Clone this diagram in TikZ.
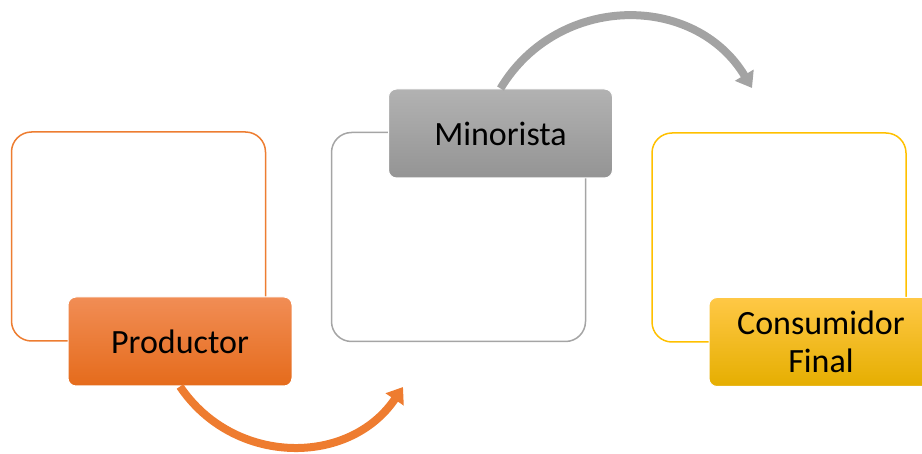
\documentclass[tikz,border=0pt]{standalone}
\usepackage{fontspec}
\setmainfont{Carlito}
\usepackage{tikz}
\usetikzlibrary{arrows.meta}

\definecolor{naranja}{HTML}{ED7D31}
\definecolor{gris}{HTML}{A5A5A5}
\definecolor{amarillo}{HTML}{FFC000}

\tikzset{
	marco/.style={draw, line width=1.5pt, rounded corners=20pt, minimum width=254pt, minimum height=209pt},
	etiqueta/.style={draw=white, line width=1pt, rounded corners=8pt, minimum width=224pt, minimum height=89pt, inner sep=0pt, align=center, font=\fontsize{34}{38}\selectfont},
	flecha/.style={line width=8pt, -{Triangle[width=21pt,length=15pt]}}
}

\begin{document}
\begin{tikzpicture}[x=1pt,y=1pt]
				\useasboundingbox (0,0) rectangle (922,453);

				% Dibujar los marcos
				\node[marco, draw=naranja] (marcoA) at (138.5,216.5) {};
				\node[marco, draw=gris] (marcoB) at (458.5,216) {};
				\node[marco, draw=amarillo] (marcoC) at (779,215.5) {};

				% Dibujar las etiquetas
				\node[etiqueta, top color={rgb,255:red,241;green,141;blue,85}, middle color={rgb,255:red,243;green,122;blue,36}, bottom color={rgb,255:red,229;green,107;blue,27}] (prod) at (180,111.5) {Productor};
				\node[etiqueta, top color={rgb,255:red,178;green,178;blue,178}, bottom color={rgb,255:red,148;green,148;blue,148}] (mino) at (500.5,319.5) {Minorista};
				\node[etiqueta, top color={rgb,255:red,255;green,200;blue,70}, middle color={rgb,255:red,255;green,192;blue,0}, bottom color={rgb,255:red,229;green,174;blue,0}] (cons) at (821,111) {Consumidor\\Final};

				% Dibujar las flechas
				\coordinate (finA) at (403,66);
				\coordinate (finB) at (752,365);
				\draw[flecha, color={rgb,255:red,238;green,124;blue,48}] (prod.south) to[out=-56, in=-124, looseness=1.1] (finA);
				\draw[flecha, color={rgb,255:red,163;green,163;blue,163}] (mino.north) to[out=59, in=121, looseness=1.13] (finB);

			\end{tikzpicture}
\end{document}
